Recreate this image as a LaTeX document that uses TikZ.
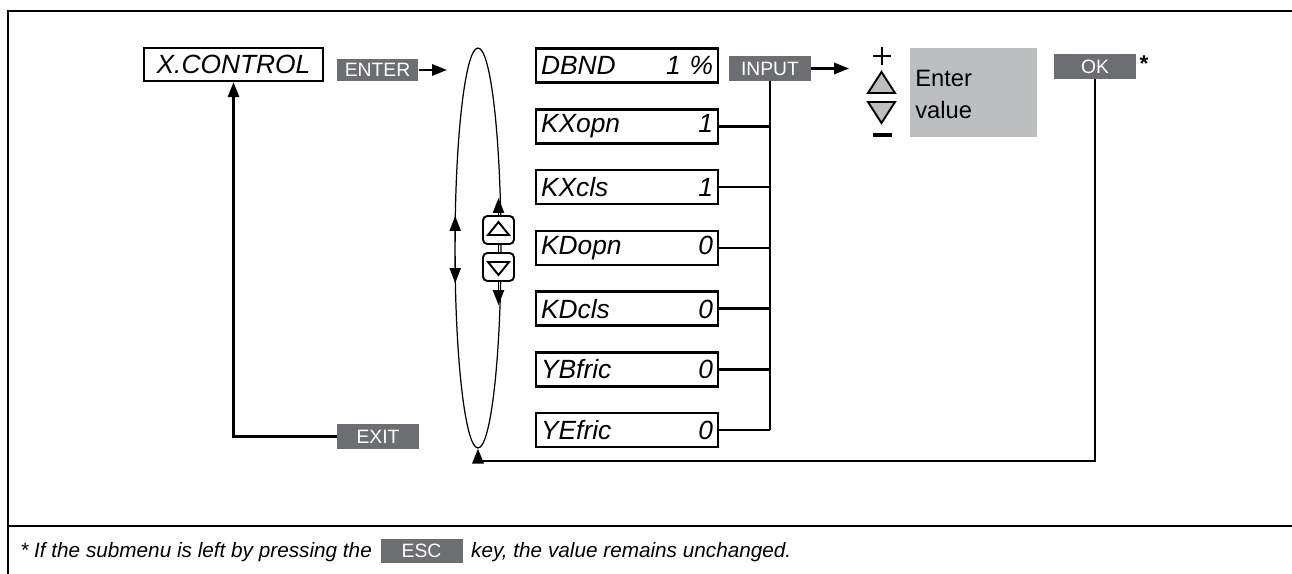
\documentclass[tikz,border=0pt]{standalone}
\usepackage{fontspec}
\setmainfont{Liberation Sans}
\usetikzlibrary{arrows.meta,shapes.geometric,calc}
\definecolor{btngray}{HTML}{6D6E71}
\definecolor{valgray}{HTML}{BCBEC0}
\begin{document}
\begin{tikzpicture}[x=0.02cm,y=-0.02cm,
  menubox/.style={draw, line width=1.4pt, minimum width=3.64cm, minimum height=0.68cm, inner sep=0pt,
    text width=3.44cm, font=\fontsize{15}{17}\selectfont\itshape},
  btn/.style={fill=btngray, text=white, minimum width=1.64cm, minimum height=0.5cm, inner sep=0pt,
    font=\fontsize{11}{12}\selectfont},
  arr/.style={-{Triangle[length=8.5pt,width=6.4pt]}, line width=1.4pt},
  conn/.style={line width=1.4pt},
  updn/.style={draw, rounded corners=2.5pt, line width=1.1pt, fill=white, minimum width=0.62cm, minimum height=0.56cm, inner sep=0pt},
  tri/.style={line width=1.1pt}
]
\useasboundingbox (0,0) rectangle (1292,574);
% frame
\draw[line width=1.5pt] (8,574) -- (8,11) -- (1292,11);
\draw[line width=1pt] (8,526) -- (1292,526);

% left part
\node[menubox, minimum width=3.58cm, minimum height=0.66cm, text width=, align=center] (xc) at (233.5,64.5) {X.CONTROL};
\node[btn, minimum height=0.44cm] (enter) at (377.5,70) {ENTER};
\coordinate (enterTip) at (447,70);
\draw[arr] (enter.east) -- (enterTip);
\node[btn] (exit) at (378,436.5) {EXIT};
\draw[arr] (exit.west) -| (xc.south);

% ellipse
\node[draw, ellipse, line width=0.7pt, minimum width=0.92cm, minimum height=8cm, inner sep=0pt] (ell) at (478,248) {};
\coordinate (la1) at (455.2,242);
\coordinate (la1t) at (455.2,216);
\coordinate (la2) at (455.2,256);
\coordinate (la2t) at (455.2,283);
\draw[arr, line width=0.7pt] (la1) -- (la1t);
\draw[arr, line width=0.7pt] (la2) -- (la2t);

% up/down buttons
\node[updn] (up) at (498.5,230) {};
\node[updn] (dn) at (498.5,267) {};
\draw[tri] ($(up.center)+(-10.5,5)$) -- ($(up.center)+(10.5,5)$) -- ($(up.center)+(0,-8)$) -- cycle;
\draw[tri] ($(dn.center)+(-10.5,-5)$) -- ($(dn.center)+(10.5,-5)$) -- ($(dn.center)+(0,8)$) -- cycle;
\draw[line width=0.9pt] (up.south) -- (dn.north);
\coordinate (upTip) at (498.5,198);
\coordinate (dnTip) at (498.5,305);
\draw[arr, line width=0.9pt] (up.north) -- (upTip);
\draw[arr, line width=0.9pt] (dn.south) -- (dnTip);

% menu items
\node[menubox] (m1) at (627,65.5) {DBND\hfill 1 \%};
\node[menubox] (m2) at (627,126.3) {KXopn\hfill 1};
\node[menubox] (m3) at (627,187) {KXcls\hfill 1};
\node[menubox] (m4) at (627,247.8) {KDopn\hfill 0};
\node[menubox] (m5) at (627,308.6) {KDcls\hfill 0};
\node[menubox] (m6) at (627,369.3) {YBfric\hfill 0};
\node[menubox] (m7) at (627,430) {YEfric\hfill 0};

\node[btn] (input) at (770,68.5) {INPUT};
\draw[conn] (input.south) -- (input.south |- m7.east);
\foreach \m in {m2,m3,m4,m5,m6,m7}
  \draw[conn] (\m.east) -- (\m.east -| input.south);
\coordinate (inTip) at (849,68.5);
\draw[arr] (input.east) -- (inTip);

% value entry
\draw[line width=1.4pt] (873,56) -- (891,56) (882,47) -- (882,65);
\draw[tri, fill=valgray] (868,93) -- (895,93) -- (881.5,72) -- cycle;
\draw[tri, fill=valgray] (868,102) -- (895,102) -- (881.5,123) -- cycle;
\draw[line width=1.8pt] (873,135) -- (892,135);
\node[fill=valgray, minimum width=2.54cm, minimum height=1.78cm, inner sep=0pt] (val) at (973.5,92.5) {};
\node[anchor=base west, inner sep=0pt, font=\fontsize{13.5}{16}\selectfont] (ent) at (915,87) {Enter};
\node[anchor=base west, inner sep=0pt, font=\fontsize{13.5}{16}\selectfont] (vtx) at (915,119) {value};

\node[btn] (ok) at (1095,66.5) {OK};
\node[font=\fontsize{13}{14}\selectfont\bfseries] (star) at (1144,64) {*};
\coordinate (okb) at (1095,461);
\coordinate (ellb) at (478,461);
\draw[conn] (ok.south) -- (okb) -- (ellb);
\draw[arr] (ellb) -- (ell.south);

% footnote
\node[anchor=base west, inner sep=0pt, font=\fontsize{11.8}{13}\selectfont\itshape] (fn1) at (20,557) {* If the submenu is left by pressing the};
\node[btn, minimum width=1.64cm, minimum height=0.5cm, anchor=west] (esc) at ([xshift=0.16cm]fn1.east |- 0,551) {ESC};
\node[anchor=base west, inner sep=0pt, font=\fontsize{11.8}{13}\selectfont\itshape] (fn2) at ([xshift=0.16cm]esc.east |- fn1.base) {key, the value remains unchanged.};
\end{tikzpicture}
\end{document}
